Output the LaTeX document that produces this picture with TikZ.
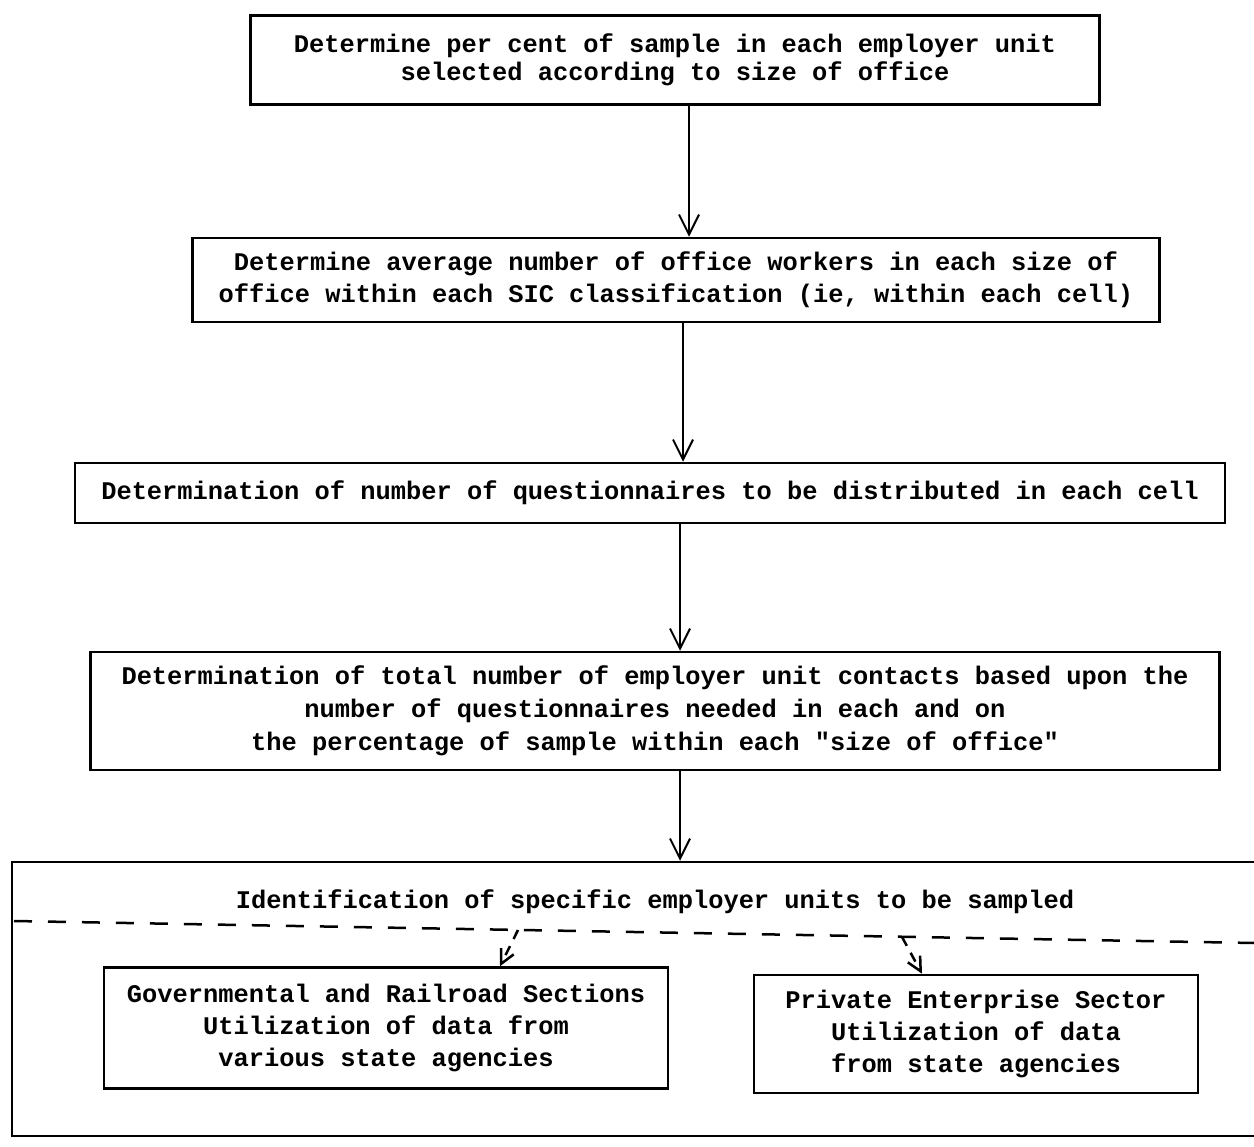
\documentclass[tikz,border=0pt]{standalone}
\usepackage{fontspec}
\setmainfont{Liberation Mono}
\usetikzlibrary{arrows.meta}

\tikzset{every picture/.style={line width=2.5pt}}

\begin{document}
\begin{tikzpicture}[x=1pt,y=1pt,yscale=-1,xscale=1,
  stepbox/.style={draw, inner sep=0pt, align=center, font=\fontsize{25.4}{32}\selectfont\bfseries},
  flow/.style={line width=2pt, -{Straight Barb[length=20pt,width=20pt]}},
  subflow/.style={line width=2.5pt, dash pattern=on 10pt off 8pt, -{Straight Barb[length=14pt,width=14pt]}},
  splitline/.style={line width=2.5pt, dash pattern=on 18pt off 16pt}]
\useasboundingbox (0,0) rectangle (1254,1147);
\clip (0,0) rectangle (1254,1147);

%Box: per cent of sample
\node [stepbox, minimum width=849pt, minimum height=89pt, font=\fontsize{25.4}{28}\selectfont\bfseries] (pct) at (675,60) {Determine per cent of sample in each employer unit\\selected according to size of office};
%Box: average number
\node [stepbox, minimum width=967pt, minimum height=84pt] (avg) at (676,280) {Determine average number of office workers in each size of\\office within each SIC classification (ie, within each cell)};
%Box: questionnaires per cell
\node [stepbox, minimum width=1150pt, minimum height=60pt] (quest) at (650,493) {Determination of number of questionnaires to be distributed in each cell};
%Box: employer unit contacts
\node [stepbox, minimum width=1129pt, minimum height=118pt, font=\fontsize{25.4}{33}\selectfont\bfseries] (contacts) at (655,711) {Determination of total number of employer unit contacts based upon the\\number of questionnaires needed in each and on\\the percentage of sample within each \textquotedbl size of office\textquotedbl};

%Outer box: identification
\node [draw, minimum width=1260pt, minimum height=274pt] (ident) at (642,999) {};
\node [font=\fontsize{25.4}{32}\selectfont\bfseries, inner sep=0pt] (identtext) at (655,902) {Identification of specific employer units to be sampled};
\coordinate (splitL) at (14,921);
\coordinate (splitR) at (1254,943);
\draw [splitline] (splitL) -- (splitR);

%Sub boxes
\node [stepbox, minimum width=564pt, minimum height=121pt] (govt) at (386,1028) {Governmental and Railroad Sections\\Utilization of data from\\various state agencies};
\node [stepbox, minimum width=444pt, minimum height=118pt] (priv) at (976,1034) {Private Enterprise Sector\\Utilization of data\\from state agencies};

%Arrows
\draw [flow] (pct.south -| 689,0) -- (avg.north -| 689,0);
\draw [flow] (avg.south -| 683,0) -- (quest.north -| 683,0);
\draw [flow] (quest.south -| 680,0) -- (contacts.north -| 680,0);
\draw [flow] (contacts.south -| 680,0) -- (ident.north -| 680,0);

\coordinate (splitA) at (518,930);
\coordinate (splitB) at (902,937);
\draw [subflow] (splitA) -- ([xshift=114pt]govt.north);
\draw [subflow] (splitB) -- ([xshift=-54pt]priv.north);

\end{tikzpicture}
\end{document}
